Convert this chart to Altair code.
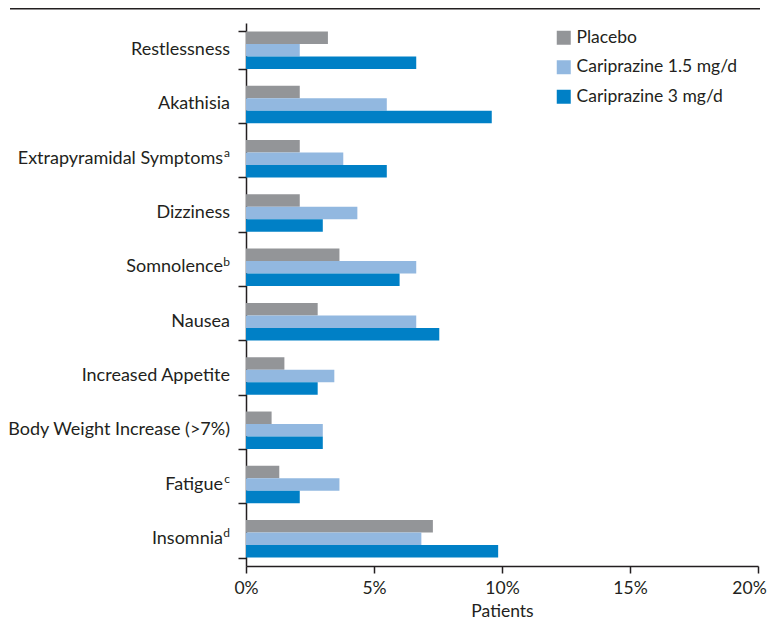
import altair as alt
import pandas as pd

categories = [
    "Restlessness",
    "Akathisia",
    "Extrapyramidal Symptoms",
    "Dizziness",
    "Somnolence",
    "Nausea",
    "Increased Appetite",
    "Body Weight Increase (>7%)",
    "Fatigue",
    "Insomnia",
]
superscripts = ["", "", "a", "", "b", "", "", "", "c", "d"]
series = ["Placebo", "Cariprazine 1.5 mg/d", "Cariprazine 3 mg/d"]
placebo = [3.2, 2.1, 2.1, 2.1, 3.65, 2.8, 1.5, 1.0, 1.3, 7.3]
cari_15 = [2.1, 5.5, 3.8, 4.35, 6.65, 6.65, 3.45, 3.0, 3.65, 6.85]
cari_3 = [6.65, 9.6, 5.5, 3.0, 6.0, 7.55, 2.8, 3.0, 2.1, 9.85]
colors = ["#939598", "#92B8E0", "#0080C6"]
x_ticks = [0, 0.05, 0.10, 0.15, 0.20]

rows = []
for name, vals in zip(series, [placebo, cari_15, cari_3]):
    for c, v in zip(categories, vals):
        rows.append({"Event": c, "Group": name, "Value": v / 100.0})
df = pd.DataFrame(rows)

lab = pd.DataFrame({"Event": categories, "Sup": superscripts})
lab_plain = lab[lab["Sup"] == ""]
lab_sup = lab[lab["Sup"] != ""]

FONT = "Lato"
INK = "#231f20"
FS = 17.5
FS_Y = 18

y_enc = alt.Y(
    "Event:N",
    sort=categories,
    scale=alt.Scale(paddingInner=0.31, paddingOuter=0.155),
    axis=alt.Axis(
        title=None,
        labels=False,
        tickBand="extent",
        tickSize=8,
        domainColor=INK,
        tickColor=INK,
        domainWidth=1.5,
        tickWidth=1.5,
        grid=False,
    ),
)

bars = alt.Chart(df).mark_bar().encode(
    y=y_enc,
    yOffset=alt.YOffset("Group:N", sort=series, scale=alt.Scale(paddingInner=0, paddingOuter=0)),
    x=alt.X(
        "Value:Q",
        scale=alt.Scale(domain=[0, 0.2], nice=False),
        axis=alt.Axis(
            title="Patients",
            values=x_ticks,
            format=".0%",
            tickSize=7,
            labelPadding=6,
            labelFlush=False,
            labelOffset={"condition": {"test": "datum.value >= 0.2", "value": -9}, "value": 0},
            labelFontSize=FS,
            labelFont=FONT,
            labelColor=INK,
            titleFontSize=FS,
            titleFont=FONT,
            titleColor=INK,
            titleFontWeight="normal",
            titlePadding=6,
            domainColor=INK,
            tickColor=INK,
            domainWidth=1.5,
            tickWidth=1.5,
            grid=False,
        ),
    ),
    color=alt.Color(
        "Group:N",
        sort=series,
        scale=alt.Scale(domain=series, range=colors),
        legend=alt.Legend(
            title=None,
            orient="none",
            legendX=309,
            legendY=6,
            symbolType="square",
            symbolSize=196,
            symbolStrokeWidth=0,
            labelFontSize=FS,
            labelFont=FONT,
            labelColor=INK,
            labelLimit=300,
            rowPadding=10.5,
            labelOffset=4,
        ),
    ),
)

plain_text = alt.Chart(lab_plain).mark_text(
    align="right", baseline="middle", font=FONT, fontSize=FS_Y, color=INK, dy=0
).encode(y=y_enc, x=alt.value(-16), text="Event:N")

main_text = alt.Chart(lab_sup).mark_text(
    align="right", baseline="middle", font=FONT, fontSize=FS_Y, color=INK, dy=0
).encode(y=y_enc, x=alt.value(-23), text="Event:N")

sup_text = alt.Chart(lab_sup).mark_text(
    align="right", baseline="middle", font=FONT, fontSize=12, color=INK, dy=-5.5
).encode(y=y_enc, x=alt.value(-16), text="Sup:N")

top_rule = alt.Chart(pd.DataFrame({"a": [0]})).mark_rule(color=INK, strokeWidth=1.5).encode(
    x=alt.value(-236), x2=alt.value(514), y=alt.value(-14.25)
)

chart = alt.layer(bars, plain_text, main_text, sup_text, top_rule).properties(
    width=512,
    height=543,
    autosize=alt.AutoSizeParams(type="none"),
    padding={"left": 238, "top": 15, "right": 10, "bottom": 54},
).configure_view(stroke=None)

chart.save("out.html", embed_options={"renderer": "svg", "actions": False})
